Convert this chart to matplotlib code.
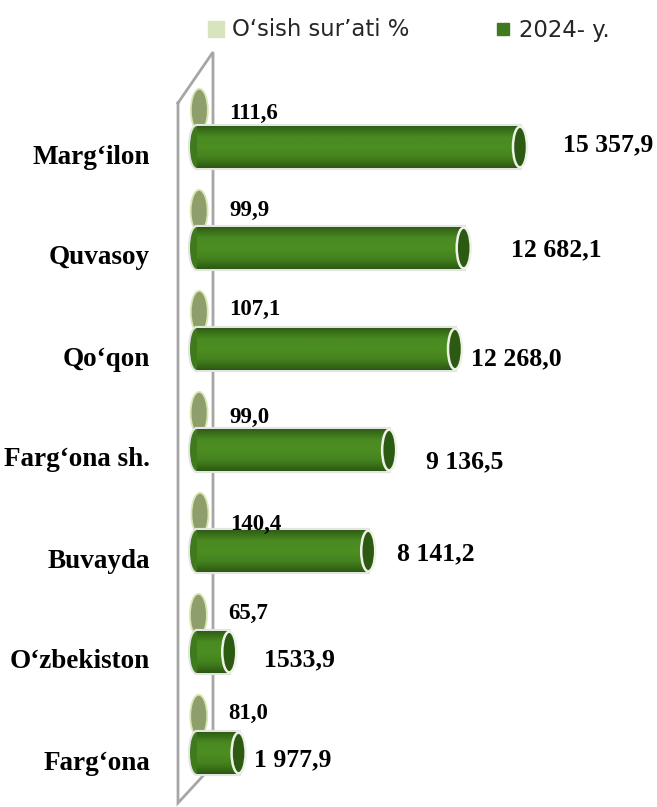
import matplotlib
matplotlib.use('Agg')
import matplotlib.pyplot as plt
from matplotlib.patches import Ellipse
from matplotlib.lines import Line2D
from matplotlib.colors import LinearSegmentedColormap
import numpy as np

# data
categories = ["Marg‘ilon", "Quvasoy", "Qo‘qon", "Farg‘ona sh.", "Buvayda", "O‘zbekiston", "Farg‘ona"]
values_2024 = [15357.9, 12682.1, 12268.0, 9136.5, 8141.2, 1533.9, 1977.9]
growth = [111.6, 99.9, 107.1, 99.0, 140.4, 65.7, 81.0]
value_labels = ["15 357,9", "12 682,1", "12 268,0", "9 136,5", "8 141,2", "1533,9", "1 977,9"]
growth_labels = ["111,6", "99,9", "107,1", "99,0", "140,4", "65,7", "81,0"]
legend_labels = ["Oʻsish surʼati %", "2024- y."]

# manual label nudges (pixels, x right / y down) as in the original slide
val_off = [(43, -2), (47, 2), (16, 10), (37, 12), (29, 3), (35, 8), (15, 7)]
gr_off = [-34, -38, -40, -33, -27, -39, -40]

W, H = 657, 807
fig = plt.figure(figsize=(W / 100, H / 100), dpi=100)
ax = fig.add_axes([0, 0, 1, 1])
ax.axis('off')

# axis scale: value 0 sits at x=197px, 1px = 47.55 units; categories 101px apart
px = 47.55
x0 = 197
y0, step = 147, 101
xlim = (-x0 * px, (W - x0) * px)
ylim = ((H - y0) / step, -y0 / step)

bar_h = 42 / step
cap_w = 14 * px
serif = 'Liberation Serif'

# 3d-ish wall behind the bars
wall_c = '#a6a6a6'
back_x, front_x = 16 * px, -19 * px
ax.plot([front_x, back_x, back_x, front_x, front_x],
        [-0.436, -0.94, 6.119, 6.495, -0.436], color=wall_c, lw=2, zorder=1,
        solid_joinstyle='miter')

green = LinearSegmentedColormap.from_list('cyl', ['#2f5e14', '#4a8a22', '#4d8e22', '#44821e', '#2c5912'])
grad = np.linspace(0, 1, 64).reshape(-1, 1)

for i, (v, g) in enumerate(zip(values_2024, growth)):
    # growth rate: tiny cylinder, only the end cap shows
    ax.add_patch(Ellipse((g, i - 0.366), 17 * px, 0.42, facecolor='#8e9f6c',
                         edgecolor='#d8e8b4', lw=1.3, zorder=2))

    # light rim under the main cylinder
    ax.barh(i, v, left=0, height=bar_h, color='#e4e4e4', edgecolor='#e4e4e4', lw=3, zorder=2.8)
    ax.add_patch(Ellipse((0, i), cap_w, bar_h, facecolor='#e4e4e4', edgecolor='#e4e4e4', lw=3, zorder=2.8))
    ax.add_patch(Ellipse((0, i), cap_w, bar_h, facecolor='#3f7a1c', lw=0, zorder=3))
    body = ax.barh(i, v, left=0, height=bar_h, facecolor='none', lw=0, zorder=3)[0]
    im = ax.imshow(grad, extent=(0, v, i + bar_h / 2, i - bar_h / 2), cmap=green,
                   aspect='auto', origin='upper', zorder=3.1)
    im.set_clip_path(body)
    ax.add_patch(Ellipse((v, i), cap_w, bar_h * 0.97, facecolor='#2d5a13',
                         edgecolor='#eef2e6', lw=1.8, zorder=3.2))

    ax.annotate(value_labels[i], xy=(v, i), xytext=(val_off[i][0], -val_off[i][1]),
                textcoords='offset pixels', ha='left', va='center', fontsize=18.5,
                fontweight='bold', family=serif, color='black', zorder=5)
    ax.annotate(growth_labels[i], xy=(g, i), xytext=(30, -gr_off[i]),
                textcoords='offset pixels', ha='left', va='center', fontsize=16.5,
                fontweight='bold', family=serif, color='black', zorder=5)
    ax.annotate(categories[i], xy=(0, i), xytext=(-47, -10),
                textcoords='offset pixels', ha='right', va='center', fontsize=19.5,
                fontweight='bold', family=serif, color='black', zorder=5)

ax.set_xlim(*xlim)
ax.set_ylim(*ylim)

handles = [Line2D([], [], marker='s', ls='', color='#d7e4bd', markersize=11),
           Line2D([], [], marker='s', ls='', color='#3f7a1e', markersize=8.5)]
fig.legend(handles, legend_labels, loc='center left', bbox_to_anchor=(207 / W, 1 - 30 / H),
           ncol=2, frameon=False, fontsize=16.4, handlelength=0.8, handletextpad=0.3,
           columnspacing=3.7, borderpad=0, borderaxespad=0, labelcolor='#262626')

fig.savefig('out.png', dpi=100)
